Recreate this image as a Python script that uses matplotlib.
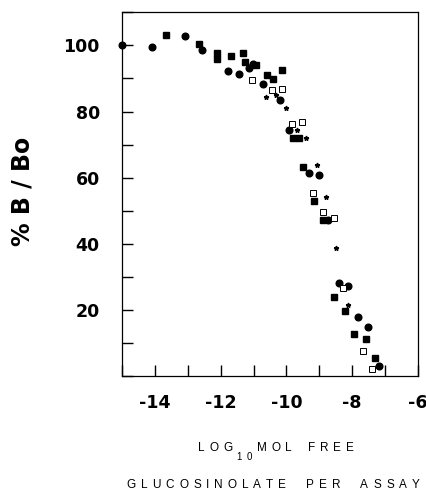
import matplotlib.pyplot as plt
import numpy as np

# filled circles
circ_x = [-15.0, -14.10, -13.09, -12.56, -11.77, -11.44, -11.13, -11.03, -10.70, -10.20,
          -9.91, -9.31, -9.01, -8.73, -8.40, -8.12, -7.82, -7.51, -7.19]
circ_y = [100.0, 99.5, 102.8, 98.7, 92.2, 91.2, 93.3, 94.3, 88.4, 83.6,
          74.3, 61.5, 60.9, 47.1, 28.2, 27.3, 17.9, 14.9, 3.0]

# filled squares
sq_x = [-13.67, -12.66, -12.10, -12.12, -11.69, -11.31, -11.26, -10.91, -10.58, -10.42,
        -10.13, -9.81, -9.62, -9.49, -9.15, -8.90, -8.55, -8.22, -7.95, -7.59, -7.31]
sq_y = [103.0, 100.5, 97.7, 96.0, 96.7, 97.8, 95.0, 94.0, 90.9, 89.9,
        92.6, 72.0, 72.0, 63.2, 53.0, 47.3, 23.9, 19.7, 12.7, 11.2, 5.6]

# open squares
osq_x = [-11.06, -10.45, -10.12, -9.84, -9.54, -9.19, -8.90, -8.55, -8.27, -7.67, -7.41]
osq_y = [89.5, 86.4, 86.7, 76.3, 76.8, 55.4, 49.6, 47.8, 26.5, 7.6, 2.0]

# stars
star_x = [-10.62, -10.32, -10.02, -9.67, -9.41, -9.08, -8.80, -8.50, -8.12]
star_y = [84.4, 84.9, 81.1, 74.3, 72.1, 63.9, 54.2, 38.8, 21.4]

xticks = [-14, -12, -10, -8, -6]
yticks = [20, 40, 60, 80, 100]

W, H = 427, 491
fig = plt.figure(figsize=(W / 100, H / 100), dpi=100)
ax = fig.add_axes([0.2857, 0.234, 0.693, 0.741])

ax.plot(circ_x, circ_y, 'o', color='black', ms=4.8, clip_on=False)
ax.plot(sq_x, sq_y, 's', color='black', ms=4.8, clip_on=False)
ax.plot(osq_x, osq_y, 's', mfc='white', mec='black', mew=0.7, ms=4.5, clip_on=False)
ax.plot(star_x, star_y, '*', color='black', ms=3.5, clip_on=False)

ax.set_xlim(-15, -6)
ax.set_ylim(0, 110)
ax.set_xticks(xticks)
ax.set_xticklabels([str(v) for v in xticks], fontsize=12.5, fontweight='bold')
ax.set_xticks(np.arange(-15, -5), minor=True)
ax.set_yticks(yticks)
ax.set_yticklabels([str(v) for v in yticks], fontsize=12.5, fontweight='bold')
ax.set_yticks(np.arange(0, 111, 10), minor=True)
ax.tick_params(which='both', direction='in', length=8, width=1, top=False, right=False)
ax.tick_params(axis='x', pad=13)
ax.tick_params(axis='y', pad=16)
for s in ax.spines.values():
    s.set_linewidth(0.9)

fig.text(23 / W, 1 - 191 / H, '% B / Bo', rotation=90, fontsize=17, fontweight='bold',
         ha='center', va='center')

# letter-spaced axis caption
renderer = fig.canvas.get_renderer()


def tracked(segments, xc, yc, track, gap):
    # segments: (text, size, dy in px); yc is the baseline in px from top
    items = []
    for txt, size, dy in segments:
        for ch in txt:
            if ch == ' ':
                items.append((None, gap, 0))
                continue
            t = fig.text(0, 0, ch, fontsize=size, family='Liberation Sans',
                         ha='left', va='baseline')
            w = t.get_window_extent(renderer).width
            items.append((t, w, dy))
    total = sum(w for _, w, _ in items) + track * (len(items) - 1)
    x = xc - total / 2
    for t, w, dy in items:
        if t is not None:
            t.set_position((x / W, 1 - (yc + dy) / H))
        x += w + track


tracked([('LOG', 8.5, 0), ('10', 7, 9), ('MOL FREE', 8.5, 0)], 276, 451, 4.6, 8)
tracked([('GLUCOSINOLATE PER ASSAY', 8.5, 0)], 273, 488, 5.0, 10)

fig.savefig('out.png', dpi=100)
